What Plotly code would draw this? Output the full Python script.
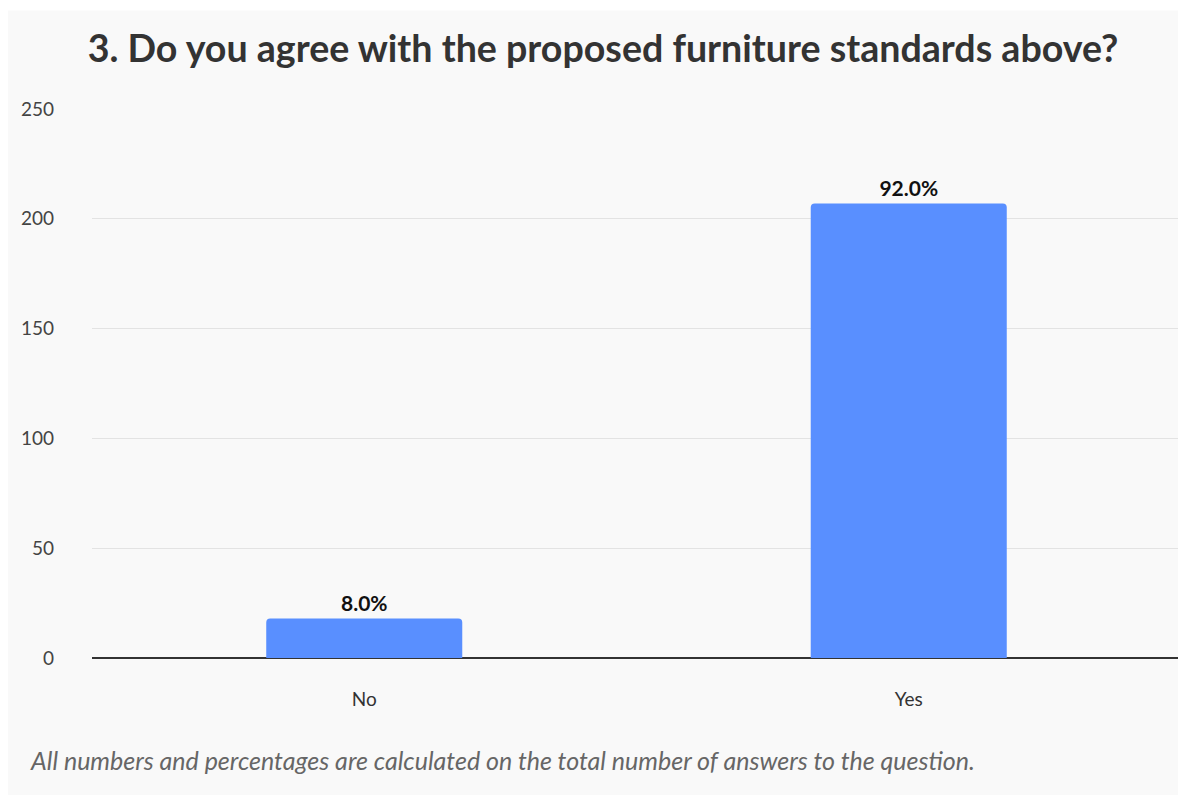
import plotly.graph_objects as go

categories = ["No", "Yes"]
counts = [18, 207]
percent_labels = ["8.0%", "92.0%"]
y_ticks = [0, 50, 100, 150, 200, 250]

title_text = "3. Do you agree with the proposed furniture standards above?"
footnote = "All numbers and percentages are calculated on the total number of answers to the question."

# page is rendered with an 8px body offset
OFF = 8
W, H = 1178, 790
ml, mt = 92 - OFF, 109 - OFF
plot_right = 1181 - OFF
plot_bottom = 658 - OFF
mr, mb = W - plot_right, H - plot_bottom
pw, ph = W - ml - mr, H - mt - mb

def px_x(p):
    return (p - OFF - ml) / pw
def px_y(p):
    return (H - mb - (p - OFF)) / ph

fig = go.Figure(go.Bar(
    x=categories, y=counts,
    text=percent_labels, textposition="outside",
    textfont=dict(family="Lato", size=21, color="#111111", weight="bold"),
    marker=dict(color="#598FFF", cornerradius=4, line=dict(width=0)),
    cliponaxis=False,
))

fig.add_shape(type="rect", xref="paper", yref="paper",
              x0=px_x(8), x1=px_x(1200), y0=px_y(795), y1=px_y(10.5),
              fillcolor="#F9F9F9", line=dict(width=0), layer="below")

fig.update_layout(
    width=W, height=H,
    margin=dict(l=ml, r=mr, t=mt, b=mb),
    paper_bgcolor="white", plot_bgcolor="rgba(0,0,0,0)",
    bargap=0.64,
    showlegend=False,
    font=dict(family="Lato", color="#333333"),
    title=dict(text="<b>" + title_text + "</b>", x=(603 - OFF) / W, xanchor="center",
               y=1 - (49 - OFF) / H, yanchor="middle",
               font=dict(family="Lato", size=37.6, color="#333333")),
    xaxis=dict(showgrid=False, showline=False, zeroline=False,
               tickfont=dict(size=19, color="#333333"),
               ticks="outside", ticklen=24, tickcolor="rgba(0,0,0,0)"),
    yaxis=dict(range=[0, 250], tickvals=y_ticks, showgrid=True,
               gridcolor="#E3E3E3", gridwidth=1,
               zeroline=True, zerolinecolor="#333333", zerolinewidth=2,
               showline=False, ticklabelstandoff=37,
               tickfont=dict(size=19, color="#444444")),
    annotations=[dict(text="<i>" + footnote + "</i>", xref="paper", yref="paper",
                      x=px_x(28), y=px_y(760), xanchor="left", yanchor="middle",
                      showarrow=False, font=dict(family="Lato", size=25, color="#666666"))],
)

fig.write_html("out.html")
